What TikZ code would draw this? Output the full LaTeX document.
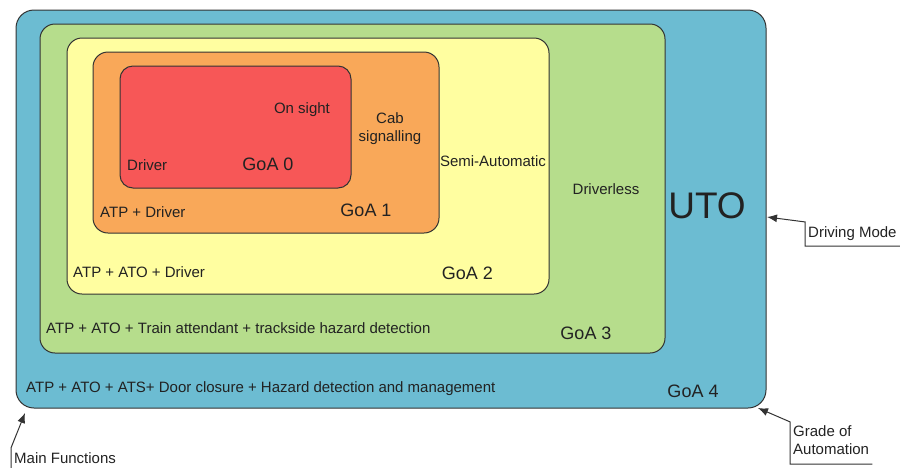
\documentclass[tikz,border=0pt]{standalone}
\usepackage{fontspec}
\setmainfont{Liberation Sans}
\usepackage{xcolor}
\usetikzlibrary{positioning, arrows.meta}

\definecolor{goablue}{HTML}{6CBCD2}
\definecolor{goagreen}{HTML}{B6DD8C}
\definecolor{goayellow}{HTML}{FFFEA0}
\definecolor{goaorange}{HTML}{F9A859}
\definecolor{goared}{HTML}{F75757}
\definecolor{goaline}{HTML}{333333}
\definecolor{goatext}{HTML}{222222}

\begin{document}
\begin{tikzpicture}[
            x=1pt, y=-1pt,
            goabox/.style={draw=goaline, line width=1pt, rounded corners=15pt, inner sep=0pt},
            small/.style={font=\fontsize{15}{18}\selectfont, text=goatext, inner sep=0pt},
            goa/.style={font=\fontsize{18}{21}\selectfont, text=goatext, inner sep=0pt},
            callout/.style={font=\fontsize{15}{18}\selectfont, text=goatext, align=left,
                inner xsep=3pt, inner ysep=4pt, text depth=5pt},
            pointer/.style={draw=goaline, line width=1pt, -{Latex[length=10pt,width=8pt]}},
        ]
            \useasboundingbox (0,0) rectangle (901,467);
            \clip (0,0) rectangle (901,467);

            % nested grades of automation
            \node[goabox, rounded corners=18pt, fill=goablue, minimum width=750pt, minimum height=398pt] (goa4) at (391,209) {};
            \node[goabox, fill=goagreen, minimum width=625pt, minimum height=329pt] (goa3) at (352.5,188.5) {};
            \node[goabox, fill=goayellow, minimum width=482pt, minimum height=256pt] (goa2) at (308,166) {};
            \node[goabox, fill=goaorange, minimum width=346pt, minimum height=181pt] (goa1) at (266,142.5) {};
            \node[goabox, rounded corners=13pt, fill=goared, minimum width=231pt, minimum height=122pt] (goa0) at (235.5,127) {};

            % GoA 0
            \node[small, anchor=base] (onsight) at (302,113.5) {On sight};
            \node[small, anchor=base west] (driver0) at (127,170) {Driver};
            \node[goa, anchor=base] (goa0label) at (268,170) {GoA 0};

            % GoA 1
            \node[small, align=center] (cab) at (390,129) {Cab\\signalling};
            \node[small, anchor=base west] (atp1) at (100,217) {ATP + Driver};
            \node[goa, anchor=base] (goa1label) at (366,216) {GoA 1};

            % GoA 2
            \node[small, anchor=base] (semi) at (493,166) {Semi-Automatic};
            \node[small, anchor=base west] (atp2) at (73,277) {ATP + ATO + Driver};
            \node[goa, anchor=base east] (goa2label) at (493,279) {GoA 2};

            % GoA 3
            \node[small, anchor=base] (driverless) at (606,194) {Driverless};
            \node[small, anchor=base west] (atp3) at (46,333) {ATP + ATO + Train attendant + trackside hazard detection};
            \node[goa, anchor=base] (goa3label) at (586,339) {GoA 3};

            % GoA 4
            \node[font=\fontsize{37}{40}\selectfont, text=goatext, inner sep=0pt, anchor=base] (uto) at (707,218) {UTO};
            \node[small, anchor=base west] (atp4) at (26,392) {ATP + ATO + ATS+ Door closure + Hazard detection and management};
            \node[goa, anchor=base] (goa4label) at (693,397) {GoA 4};

            % callouts
            \node[callout, anchor=base west] (mode) at (805,237) {Driving Mode};
            \node[callout, anchor=west] (grade) at (790,443) {Grade of\\Automation};
            \node[callout, anchor=base west] (functions) at (11,463) {Main Functions};

            \coordinate (modetip) at (767,217);
            \coordinate (gradetip) at (758,408);
            \coordinate (functionstip) at (25,413);

            \draw[pointer] (mode.south east) -- (mode.south west) -- (mode.north west) -- (modetip);
            \draw[pointer] (grade.south east) -- (grade.south west) -- (grade.north west) -- (gradetip);
            \draw[pointer] (functions.south east) -- (functions.south west) -- (functions.north west) -- (functionstip);
        \end{tikzpicture}
\end{document}
